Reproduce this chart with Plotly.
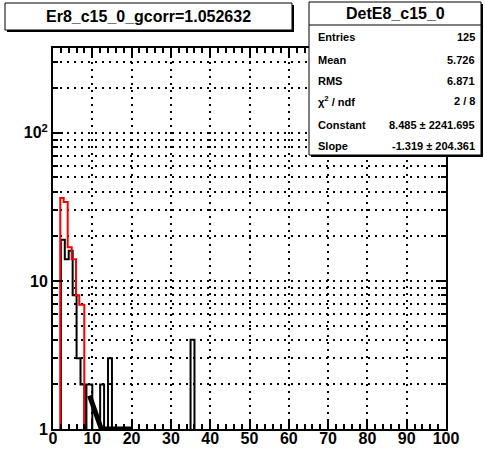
import plotly.graph_objects as go

# DetE8_c15_0 (black) : bin edges and contents (zero bins sit on the axis)
black_edges = [0, 2, 3, 4, 5, 6, 7, 8, 8.5, 10, 12, 13, 14, 15, 35, 36, 100]
black_counts = [0, 19, 14, 16, 8, 3, 2, 0, 2, 0, 2, 0, 3, 0, 4, 0]

# Er8_c15_0 gain corrected (red)
red_edges = [0, 1.85, 2.72, 3.74, 4.76, 5.85, 6.69, 7.96, 100]
red_counts = [0, 36.3, 34.1, 16.9, 14.0, 8.0, 6.9, 0]

# exponential fit as drawn (clipped at y=1)
fit_x = [9.3, 10, 11, 12, 12.3, 20]
fit_y = [1.68, 1.49, 1.25, 1.05, 1.0, 1.0]

stat_title = "DetE8_c15_0"
stat_labels = ["Entries", "Mean", "RMS", "χ<sup>2</sup> / ndf", "Constant", "Slope"]
stat_values = ["125", "5.726", "6.871", "2 / 8", "8.485 ± 2241.695", "-1.319 ± 204.361"]
hist_title = "Er8_c15_0_gcorr=1.052632"

x_ticks = [0, 10, 20, 30, 40, 50, 60, 70, 80, 90, 100]
y_ticks = [1, 10, 100]
y_ticktext = ["1", "10", "10<sup>2</sup>"]
y_minor = [2, 3, 4, 5, 6, 7, 8, 9, 20, 30, 40, 50, 60, 70, 80, 90, 200, 300]

FONT = "Liberation Sans, Arial, sans-serif"
W, H = 485, 451
L, R, T, B = 53, 39, 48, 22


def steps(edges, counts, floor=0.95):
    # empty bins go just under the frame, as ROOT hides them behind the axis
    xs, ys = [], []
    for i, c in enumerate(counts):
        v = max(c, floor)
        xs += [edges[i], edges[i + 1]]
        ys += [v, v]
    return xs, ys


def px(x):
    return (x - L) / (W - L - R)


def py(y):
    return (H - B - y) / (H - B - T)


fig = go.Figure()

bx, by = steps(black_edges, black_counts)
fig.add_trace(go.Scatter(x=bx, y=by, mode="lines", line=dict(color="black", width=2),
                         showlegend=False))
rx, ry = steps(red_edges, red_counts)
fig.add_trace(go.Scatter(x=rx, y=ry, mode="lines", line=dict(color="#ff0000", width=2),
                         showlegend=False))
fig.add_trace(go.Scatter(x=fit_x, y=fit_y, mode="lines", line=dict(color="black", width=5),
                         showlegend=False))

shapes = []
annots = []

# title box (with shadow)
shapes.append(dict(type="rect", xref="paper", yref="paper", x0=px(7), x1=px(294),
                   y0=py(32), y1=py(5), fillcolor="black", line=dict(width=0), layer="above"))
shapes.append(dict(type="rect", xref="paper", yref="paper", x0=px(5), x1=px(292),
                   y0=py(30), y1=py(3), fillcolor="white", line=dict(color="black", width=1),
                   layer="above"))
annots.append(dict(xref="paper", yref="paper", x=px(148.5), y=py(16.5), text=hist_title,
                   showarrow=False, xanchor="center", yanchor="middle",
                   font=dict(family=FONT, size=16, color="black", weight="bold")))

# stats box
shapes.append(dict(type="rect", xref="paper", yref="paper", x0=px(311), x1=px(483),
                   y0=py(157), y1=py(4), fillcolor="black", line=dict(width=0), layer="above"))
shapes.append(dict(type="rect", xref="paper", yref="paper", x0=px(309), x1=px(481),
                   y0=py(155), y1=py(2), fillcolor="white", line=dict(color="black", width=1),
                   layer="above"))
shapes.append(dict(type="line", xref="paper", yref="paper", x0=px(309), x1=px(481),
                   y0=py(25), y1=py(25), line=dict(color="black", width=1), layer="above"))
annots.append(dict(xref="paper", yref="paper", x=px(395), y=py(13.5), text=stat_title,
                   showarrow=False, xanchor="center", yanchor="middle",
                   font=dict(family=FONT, size=16, color="black", weight="bold")))
row_y = [37, 59.5, 80.5, 101, 125, 146]
for lab, val, yy in zip(stat_labels, stat_values, row_y):
    annots.append(dict(xref="paper", yref="paper", x=px(316), y=py(yy), text=lab,
                       showarrow=False, xanchor="left", yanchor="middle",
                       font=dict(family=FONT, size=11, color="black", weight="bold")))
    annots.append(dict(xref="paper", yref="paper", x=px(477), y=py(yy), text=val,
                       showarrow=False, xanchor="right", yanchor="middle",
                       font=dict(family=FONT, size=11, color="black", weight="bold")))

fig.update_layout(
    width=W, height=H,
    margin=dict(l=L, r=R, t=T, b=B),
    paper_bgcolor="white", plot_bgcolor="white",
    shapes=shapes, annotations=annots,
    xaxis=dict(range=[0, 100], tickvals=x_ticks, ticks="inside", ticklen=10, tickwidth=1.5,
               tickcolor="black", showline=True, linecolor="black", linewidth=2,
               mirror="ticks", showgrid=True, gridcolor="black", gridwidth=1.5,
               griddash="2px,5px", zeroline=False, automargin=False,
               ticklabelstandoff=-6,
               tickfont=dict(family=FONT, size=16, color="black", weight="bold"),
               minor=dict(dtick=2, ticks="inside", ticklen=5, tickwidth=1.5,
                          tickcolor="black", showgrid=False)),
    yaxis=dict(type="log", range=[0, 2.573], tickvals=y_ticks, ticktext=y_ticktext,
               ticks="inside", ticklen=10, tickwidth=1.5, tickcolor="black",
               showline=True, linecolor="black", linewidth=2, mirror="ticks",
               showgrid=True, gridcolor="black", gridwidth=1.5, griddash="2px,5px",
               zeroline=False, automargin=False,
               tickfont=dict(family=FONT, size=16, color="black", weight="bold"),
               minor=dict(tickvals=y_minor, ticks="inside", ticklen=5, tickwidth=1.5,
                          tickcolor="black", showgrid=True, gridcolor="black",
                          gridwidth=1.5, griddash="2px,5px")),
)

# drop the default 8px page margin so the figure sits at the window's corner
fig.write_html("out.html", config={"displayModeBar": False},
               post_script="document.body.style.margin = '0';")
